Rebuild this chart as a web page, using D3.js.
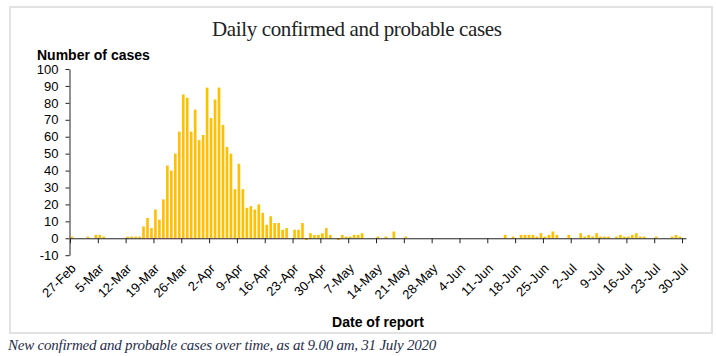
<!DOCTYPE html>
<html><head><meta charset="utf-8">
<script src="https://cdn.jsdelivr.net/npm/d3@7"></script>
<style>
html,body{margin:0;padding:0;background:#fff;}
svg{display:block;}
</style></head>
<body>
<svg id="chart" width="716" height="356"></svg>
<script>
// ---- data ----
const startDate = new Date(2020, 1, 28);   // first category (28 Feb 2020)
const endDate = new Date(2020, 7, 1);      // exclusive (last category 31 Jul 2020)
const categories = d3.timeDay.range(startDate, endDate);
const cases = [
  1,0,0,0,1,0,2,2,1,0, 0,0,0,0,1,1,1,1,7,12,
  6,17,11,23,43,40,50,63,85,83, 63,76,58,61,89,71,82,89,67,54,
  50,29,44,29,18,19,17,20,15,8, 13,9,9,5,6,0,5,5,9,-1,
  3,2,2,3,6,2,0,-1,2,1, 1,2,2,3,0,0,0,1,0,1,
  0,4,0,0,1,0,0,0,0,0, 0,0,0,0,0,0,0,0,0,0,
  0,0,0,0,0,0,0,0,0,2, 0,1,0,2,2,2,2,1,3,1,
  2,4,2,0,0,2,0,0,3,1, 2,1,3,1,1,1,0,1,2,1,
  1,2,3,1,1,0,0,1,0,0, 0,1,2,1,0
];
const yTicks = [-10,0,10,20,30,40,50,60,70,80,90,100];
const xTickLabels = ["27-Feb","5-Mar","12-Mar","19-Mar","26-Mar","2-Apr","9-Apr","16-Apr",
  "23-Apr","30-Apr","7-May","14-May","21-May","28-May","4-Jun","11-Jun","18-Jun","25-Jun",
  "2-Jul","9-Jul","16-Jul","23-Jul","30-Jul"];
const chartTitle = "Daily confirmed and probable cases";
const yTitle = "Number of cases";
const xTitle = "Date of report";
const caption = "New confirmed and probable cases over time, as at 9.00 am, 31 July 2020";

// ---- layout ----
const svg = d3.select("#chart");
const sans = "'Liberation Sans', Arial, sans-serif";
const serif = "'Liberation Serif', 'DejaVu Serif', Georgia, serif";
const pLeft = 70, pRight = 686, pTop = 69, pBottom = 255.2;

svg.append("rect").attr("x",10).attr("y",7).attr("width",702).attr("height",326)
  .attr("fill","#fff").attr("stroke","#e2e2e2").attr("stroke-width",2);

svg.append("text").attr("x",357).attr("y",36).attr("text-anchor","middle")
  .attr("font-family",serif).attr("font-size",21).attr("fill","#222")
  .attr("textLength",290).text(chartTitle);

const y = d3.scaleLinear().domain([d3.min(yTicks), d3.max(yTicks)]).range([pBottom, pTop]);
const n = categories.length;
const xi = d3.scaleLinear().domain([0, n]).range([pLeft, pRight]);
const xb = d3.scaleBand().domain(d3.range(n)).range([pLeft, pRight])
  .paddingInner(0.33).paddingOuter(0.165);

// bars
svg.append("g").selectAll("rect").data(cases).join("rect")
  .attr("x",(d,i)=>xb(i)).attr("width",xb.bandwidth())
  .attr("y",d=>y(Math.max(d,0))).attr("height",d=>Math.abs(y(d)-y(0)))
  .attr("fill","#FFC000");

// y axis
const ya = svg.append("g").attr("transform",`translate(${pLeft-0.5},0)`)
  .call(d3.axisLeft(y).tickValues(yTicks).tickFormat(d=>String(d))
    .tickSize(4).tickPadding(7).tickSizeOuter(0));
ya.selectAll("text").attr("font-family",sans).attr("font-size",13).attr("fill","#000");
ya.selectAll("line,path").attr("stroke","#222");

// x axis
const y0 = y(0);
const tickIdx = xTickLabels.map((d,i)=>i*7);
const xa = svg.append("g").attr("transform",`translate(0,${y0})`)
  .call(d3.axisBottom(xi).tickValues(tickIdx).tickFormat((d,i)=>xTickLabels[i])
    .tickSize(5).tickSizeOuter(0));
xa.selectAll("line,path").attr("stroke","#222");
xa.selectAll("text").attr("font-family",sans).attr("font-size",13).attr("fill","#000")
  .attr("x",0).attr("y",0).attr("dy","0.35em").attr("text-anchor","end")
  .attr("transform",`translate(3,${266-y0}) rotate(-45)`);

// axis titles
svg.append("text").attr("x",37).attr("y",60).attr("font-family",sans)
  .attr("font-weight","bold").attr("font-size",14).attr("fill","#000").text(yTitle);
svg.append("text").attr("x",378).attr("y",327).attr("text-anchor","middle")
  .attr("font-family",sans).attr("font-weight","bold").attr("font-size",14)
  .attr("fill","#000").text(xTitle);

// caption: width fitted so that "... 9.00 am," ends near x = 358
const cap = svg.append("text").attr("x",8).attr("y",350).attr("font-family",serif)
  .attr("font-style","italic").attr("font-size",15).attr("fill","#1f2d4d").text(caption);
const prefixLen = caption.indexOf("am,") + 3;
const fullW = cap.node().getComputedTextLength();
const prefW = cap.node().getSubStringLength(0, prefixLen);
cap.attr("textLength", fullW * 350 / prefW);
</script>
</body></html>
